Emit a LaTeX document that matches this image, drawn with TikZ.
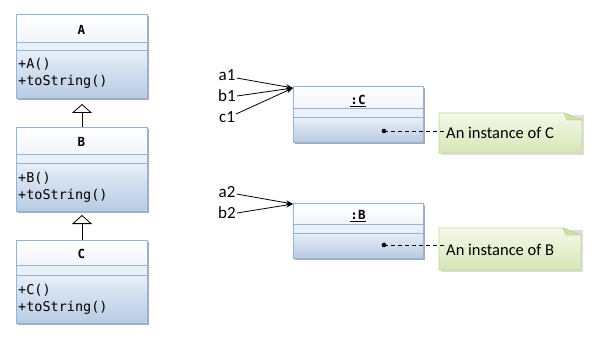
\documentclass[tikz,border=0pt]{standalone}
\usepackage{fontspec}
\setmainfont{Carlito}
\newfontfamily\monof{DejaVu Sans Mono}
\usetikzlibrary{arrows.meta,calc}
\definecolor{bord}{HTML}{95B3D7}
\definecolor{hdrbot}{HTML}{F1F5FB}
\definecolor{attrc}{HTML}{EAF0F8}
\definecolor{mtop}{HTML}{E7EEF7}
\definecolor{mbot}{HTML}{B8CBE4}
\definecolor{shadc}{HTML}{A9ADB3}
\definecolor{ntop}{HTML}{F5F9EA}
\definecolor{nbot}{HTML}{D6E6B6}
\definecolor{nbord}{HTML}{C3D69B}
\definecolor{nfold}{HTML}{CFE0A6}
\tikzset{
  title/.style={font=\monof\bfseries\fontsize{12.5}{14}\selectfont, inner sep=0pt},
  meth/.style={font=\monof\fontsize{13.5}{16}\selectfont, anchor=base west, inner sep=0pt},
  lbl/.style={font=\fontsize{17}{18}\selectfont, inner sep=1pt},
  notetext/.style={font=\fontsize{16.5}{18}\selectfont, anchor=west, inner sep=0pt},
  refarrow/.style={draw=black, line width=0.8pt, -{Stealth[length=7pt,width=5pt]}},
  inherit/.style={draw=black, line width=0.8pt, -{Triangle[open,length=9pt,width=20pt,line width=0.8pt]}},
  notelink/.style={draw=black, line width=0.8pt, dashed, dash pattern=on 4pt off 3pt},
}
% frame of a class box: name, xl, xr, ytop, yhead, yattr, ybot
\newcommand\classframe[7]{%
  \fill[shadc] (#2+2,#4+2) rectangle (#3+2,#7+2);
  \shade[top color=white,bottom color=hdrbot] (#2,#4) rectangle (#3,#5);
  \fill[attrc] (#2,#5) rectangle (#3,#6);
  \shade[top color=mtop,bottom color=mbot] (#2,#6) rectangle (#3,#7);
  \draw[bord,line width=1pt] (#2,#5) -- (#3,#5) (#2,#6) -- (#3,#6);
  \node[draw=bord,line width=1pt,inner sep=0pt,anchor=north west,
        minimum width={#3-#2},minimum height={#7-#4}] (#1) at (#2,#4) {};
}
% note shape: xl, ytop, xr, ybot
\newcommand\noteshape[4]{%
  \fill[gray!25] (#1+2,#2+2) rectangle (#3+2,#4+2);
  \shade[top color=ntop,bottom color=nbot,draw=nbord,line width=0.8pt]
    (#1,#2) -- (#3-18,#2) -- (#3,#2+7) -- (#3,#4) -- (#1,#4) -- cycle;
  \filldraw[fill=nfold,draw=nbord,line width=0.8pt]
    (#3-18,#2) -- (#3-15,#2+7) -- (#3,#2+7) -- cycle;
}
\begin{document}
\begin{tikzpicture}[x=1pt,y=-1pt]
\fill[white] (0,0) rectangle (599,342);
\useasboundingbox (0,0) rectangle (599,342);

% class A
\classframe{A}{16}{147}{14}{43}{51}{98}
\node[title] (A-t) at (81.5,29.5) {A};
\node[meth] (A-m1) at (18,69) {+A()};
\node[meth] (A-m2) at (18,86) {+toString()};

% class B
\classframe{B}{16}{147}{127}{154}{163}{211}
\node[title] (B-t) at (81.5,141.5) {B};
\node[meth] (B-m1) at (18,182) {+B()};
\node[meth] (B-m2) at (18,199) {+toString()};

% class C
\classframe{C}{16}{147}{240}{265}{275}{323}
\node[title] (C-t) at (81.5,253.5) {C};
\node[meth] (C-m1) at (18,294) {+C()};
\node[meth] (C-m2) at (18,311) {+toString()};

% inheritance
\draw[inherit] (B.north) -- ([yshift=-5pt]A.south);
\draw[inherit] (C.north) -- ([yshift=-3pt]B.south);

% object :C
\classframe{objC}{293}{423}{86}{109}{118}{142}
\node[title] (objC-t) at (358,101) {\underline{:C}};
% object :B
\classframe{objB}{293}{423}{203}{224}{233}{258}
\node[title] (objB-t) at (358,216) {\underline{:B}};

% reference labels
\node[lbl] (a1) at (227,75) {a1};
\node[lbl] (b1) at (227,96) {b1};
\node[lbl] (c1) at (227,117) {c1};
\node[lbl] (a2) at (227,192) {a2};
\node[lbl] (b2) at (227,213) {b2};
\coordinate (tipC) at ([yshift=-2pt]objC.north west);
\coordinate (tipB) at ([yshift=-1pt]objB.north west);
\draw[refarrow] ([yshift=-3pt]a1.east) -- (tipC);
\draw[refarrow] (b1.east) -- (tipC);
\draw[refarrow] ([yshift=3pt]c1.east) -- (tipC);
\draw[refarrow] ([yshift=-2pt]a2.east) -- (tipB);
\draw[refarrow] (b2.east) -- (tipB);

% notes
\noteshape{439}{113}{582}{153}
\node[notetext] (noteC) at (446,133) {An instance of C};
\noteshape{439}{228}{581}{270}
\node[notetext] (noteB) at (446,250) {An instance of B};

\coordinate (dotC) at (384,131);
\coordinate (dotB) at (384,245);
\fill (dotC) circle (2.3);
\fill (dotB) circle (2.3);
\draw[notelink] (dotC) -- (dotC -| noteC.west);
\draw[notelink] (dotB) -- (dotB -| noteB.west);
\end{tikzpicture}
\end{document}
